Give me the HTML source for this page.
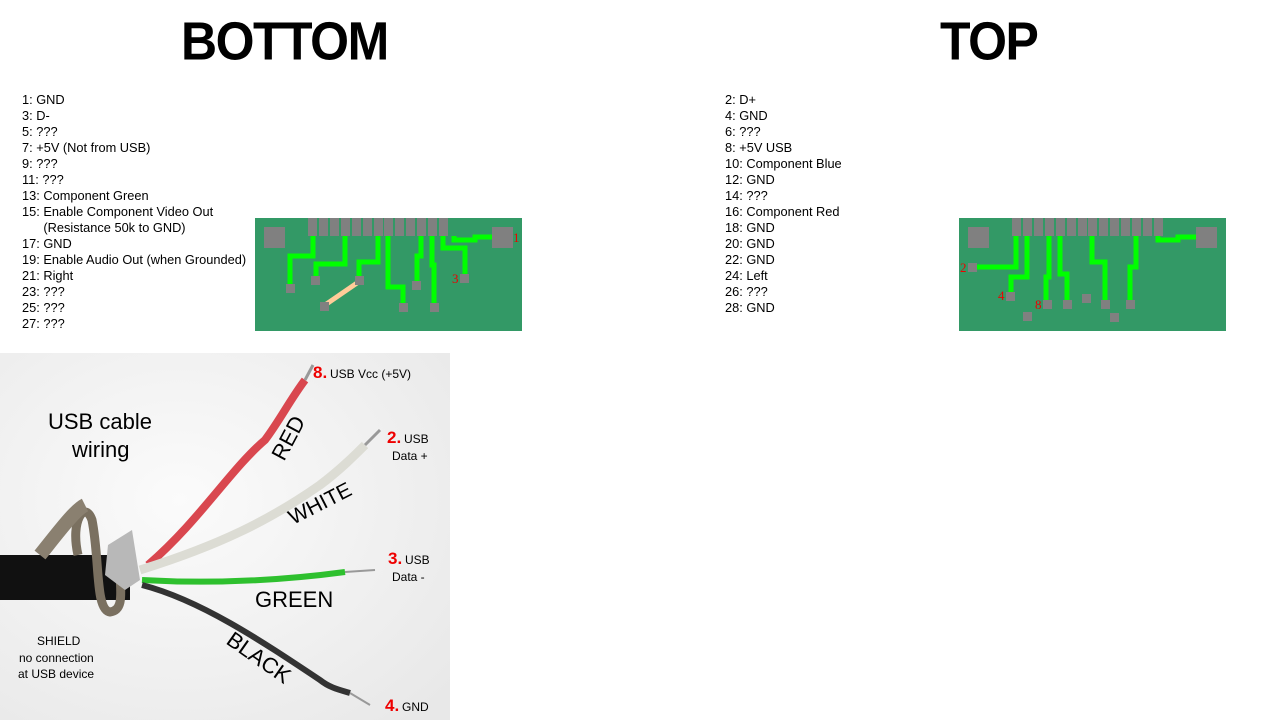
<!DOCTYPE html>
<html><head><meta charset="utf-8"><style>
body{margin:0;width:1280px;height:720px;background:#fff;position:relative;overflow:hidden;font-family:"Liberation Sans",Arial,sans-serif}
.t{position:absolute;font-weight:bold;font-size:50px;letter-spacing:-1.5px;line-height:50px;top:16px}
.l{position:absolute;font-size:12.8px;line-height:16px;color:#000;white-space:pre}
svg{position:absolute;left:0;top:0}
</style></head><body>
<div class="t" style="left:181px;transform:scaleY(1.08)">BOTTOM</div>
<div class="t" style="left:940px;transform:scaleY(1.08)">TOP</div>
<div class="l" style="left:22px;top:92px">1: GND
3: D-
5: ???
7: +5V (Not from USB)
9: ???
11: ???
13: Component Green
15: Enable Component Video Out
      (Resistance 50k to GND)
17: GND
19: Enable Audio Out (when Grounded)
21: Right
23: ???
25: ???
27: ???</div>
<div class="l" style="left:725px;top:92px">2: D+
4: GND
6: ???
8: +5V USB
10: Component Blue
12: GND
14: ???
16: Component Red
18: GND
20: GND
22: GND
24: Left
26: ???
28: GND</div>
<svg width="1280" height="720" xmlns="http://www.w3.org/2000/svg">
<rect x="255" y="218" width="267" height="113" fill="#339966"/>
<g fill="#808080">
<rect x="264" y="227" width="21" height="21"/><rect x="492" y="227" width="21" height="21"/>
<rect x="308" y="218" width="9" height="18"/><rect x="319" y="218" width="9" height="18"/><rect x="330" y="218" width="9" height="18"/><rect x="341" y="218" width="9" height="18"/><rect x="352" y="218" width="9" height="18"/><rect x="363" y="218" width="9" height="18"/><rect x="374" y="218" width="9" height="18"/><rect x="384" y="218" width="9" height="18"/><rect x="395" y="218" width="9" height="18"/><rect x="406" y="218" width="9" height="18"/><rect x="417" y="218" width="9" height="18"/><rect x="428" y="218" width="9" height="18"/><rect x="439" y="218" width="9" height="18"/>
</g>
<g fill="none" stroke="#00ff00" stroke-width="5">
<path d="M313 236V256H290V285"/><path d="M345 236V264H316V278"/><path d="M378 236V262H359V278"/>
<path d="M388 236V287H403V305"/><path d="M421 236V256H417V282"/><path d="M432 236V265H434V305"/>
<path d="M443 236V248H465V276"/><path d="M454 236V240H475V237H492"/>
</g>
<path d="M325 305L357 283" stroke="#ffcc99" stroke-width="5"/>
<g fill="#808080">
<rect x="286" y="284" width="9" height="9"/><rect x="311" y="276" width="9" height="9"/><rect x="355" y="276" width="9" height="9"/>
<rect x="320" y="302" width="9" height="9"/><rect x="399" y="303" width="9" height="9"/><rect x="412" y="281" width="9" height="9"/>
<rect x="430" y="303" width="9" height="9"/><rect x="460" y="274" width="9" height="9"/>
</g>
<text x="513" y="242" fill="#e00" font-size="13" font-family="Liberation Serif">1</text>
<text x="452" y="283" fill="#e00" font-size="13" font-family="Liberation Serif">3</text>
<rect x="959" y="218" width="267" height="113" fill="#339966"/>
<g fill="#808080">
<rect x="968" y="227" width="21" height="21"/><rect x="1196" y="227" width="21" height="21"/>
<rect x="1012" y="218" width="9" height="18"/><rect x="1023" y="218" width="9" height="18"/><rect x="1034" y="218" width="9" height="18"/><rect x="1045" y="218" width="9" height="18"/><rect x="1056" y="218" width="9" height="18"/><rect x="1067" y="218" width="9" height="18"/><rect x="1078" y="218" width="9" height="18"/><rect x="1088" y="218" width="9" height="18"/><rect x="1099" y="218" width="9" height="18"/><rect x="1110" y="218" width="9" height="18"/><rect x="1121" y="218" width="9" height="18"/><rect x="1132" y="218" width="9" height="18"/><rect x="1143" y="218" width="9" height="18"/><rect x="1154" y="218" width="9" height="18"/>
</g>
<g fill="none" stroke="#00ff00" stroke-width="5">
<path d="M1016 236V267H977"/><path d="M1027 236V277H1011V293"/><path d="M1049 236V277H1046V301"/>
<path d="M1060 236V274H1067V300"/><path d="M1092 236V262H1105V300"/><path d="M1136 236V267H1130V300"/>
<path d="M1158 236V240H1178V237H1196"/>
</g>
<g fill="#808080">
<rect x="968" y="263" width="9" height="9"/><rect x="1006" y="292" width="9" height="9"/><rect x="1043" y="300" width="9" height="9"/>
<rect x="1063" y="300" width="9" height="9"/><rect x="1082" y="294" width="9" height="9"/><rect x="1101" y="300" width="9" height="9"/>
<rect x="1023" y="312" width="9" height="9"/><rect x="1110" y="313" width="9" height="9"/><rect x="1126" y="300" width="9" height="9"/>
</g>
<text x="960" y="272" fill="#e00" font-size="13" font-family="Liberation Serif">2</text>
<text x="998" y="300" fill="#e00" font-size="13" font-family="Liberation Serif">4</text>
<text x="1035" y="309" fill="#e00" font-size="13" font-family="Liberation Serif">8</text>
<defs><radialGradient id="bg" cx="0.4" cy="0.4" r="0.8"><stop offset="0" stop-color="#fbfbfb"/><stop offset="1" stop-color="#e8e8e8"/></radialGradient></defs>
<rect x="0" y="353" width="450" height="367" fill="url(#bg)"/>
<path d="M0 555H130V600H0Z" fill="#111"/>
<path d="M78 555C70 520 85 500 92 520C100 560 95 610 110 612C125 610 120 590 120 570" fill="none" stroke="#7a7060" stroke-width="9"/>
<path d="M40 555C60 530 75 510 85 505" fill="none" stroke="#8a8070" stroke-width="14"/>
<path d="M108 545L132 530L140 580L125 590L105 575Z" fill="#b8b8b8"/>
<path d="M148 565C200 520 230 470 265 440C280 420 290 400 305 380" fill="none" stroke="#d9474f" stroke-width="8"/>
<path d="M305 380L313 365" stroke="#999" stroke-width="3"/>
<path d="M140 570C220 545 270 520 320 485C340 470 355 455 365 445" fill="none" stroke="#dcdcd4" stroke-width="9"/>
<path d="M365 445L380 430" stroke="#999" stroke-width="3"/>
<path d="M142 580C230 585 300 578 345 572" fill="none" stroke="#2ec02e" stroke-width="6"/>
<path d="M345 572L375 570" stroke="#999" stroke-width="2"/>
<path d="M142 585C200 600 260 640 320 680C330 688 340 690 350 693" fill="none" stroke="#333" stroke-width="6"/>
<path d="M350 693L370 705" stroke="#999" stroke-width="2"/>
<g font-family="Liberation Sans,Arial,sans-serif" fill="#000">
<text x="48" y="429" font-size="22">USB cable</text>
<text x="72" y="457" font-size="22">wiring</text>
<text x="37" y="645" font-size="12">SHIELD</text>
<text x="19" y="662" font-size="12">no connection</text>
<text x="18" y="678" font-size="12">at USB device</text>
<text transform="translate(284,462) rotate(-62)" font-size="22">RED</text>
<text transform="translate(293,525) rotate(-27)" font-size="21">WHITE</text>
<text x="255" y="607" font-size="22">GREEN</text>
<text transform="translate(225,643) rotate(35)" font-size="22">BLACK</text>
<text x="313" y="378" font-size="17" font-weight="bold" fill="#e00">8.</text><text x="330" y="378" font-size="12">USB Vcc (+5V)</text>
<text x="387" y="443" font-size="17" font-weight="bold" fill="#e00">2.</text><text x="404" y="443" font-size="12">USB</text>
<text x="392" y="460" font-size="12">Data +</text>
<text x="388" y="564" font-size="17" font-weight="bold" fill="#e00">3.</text><text x="405" y="564" font-size="12">USB</text>
<text x="392" y="581" font-size="12">Data -</text>
<text x="385" y="711" font-size="17" font-weight="bold" fill="#e00">4.</text><text x="402" y="711" font-size="12">GND</text>
</g>
</svg>
</body></html>
